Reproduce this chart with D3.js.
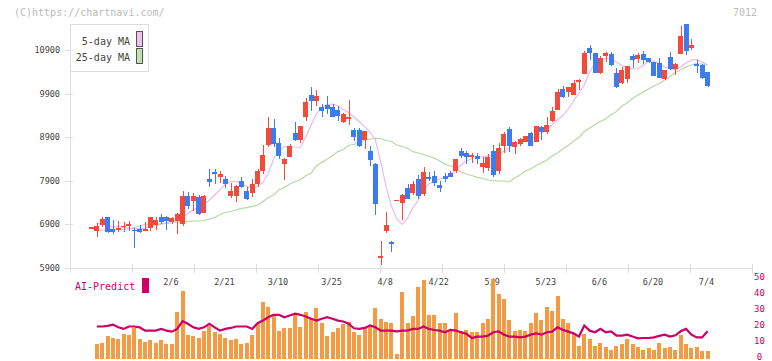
<!DOCTYPE html>
<html><head><meta charset="utf-8">
<script src="https://cdn.jsdelivr.net/npm/d3@7"></script>
<style>
body{margin:0;background:#fff}
svg{display:block}
text{font-family:"DejaVu Sans Mono","Liberation Mono",monospace}
</style>
</head><body>
<svg id="chart" width="772" height="361"></svg>
<script>
// ---- data ----
const dates = ["1/16","1/17","1/20","1/21","1/22","1/23","1/24","1/27","1/28","1/29","1/30","1/31",
"2/3","2/4","2/5","2/6","2/7","2/10","2/12","2/13","2/14","2/17","2/18","2/19","2/20","2/21","2/25","2/26","2/27","2/28",
"3/3","3/4","3/5","3/6","3/7","3/10","3/11","3/12","3/13","3/14","3/17","3/18","3/19","3/21","3/24","3/25","3/26","3/27","3/28","3/31",
"4/1","4/2","4/3","4/4","4/7","4/8","4/9","4/10","4/11","4/14","4/15","4/16","4/17","4/18","4/21","4/22","4/23","4/24","4/25","4/28","4/30",
"5/1","5/2","5/7","5/8","5/9","5/12","5/13","5/14","5/15","5/16","5/19","5/20","5/21","5/22","5/23","5/26","5/27","5/28","5/29","5/30",
"6/2","6/3","6/4","6/5","6/6","6/9","6/10","6/11","6/12","6/13","6/16","6/17","6/18","6/19","6/20","6/23","6/24","6/25","6/26","6/27","6/30",
"7/1","7/2","7/3","7/4"];

const open = [6825,6750,6880,7060,6790,6770,6840,6860,6770,6790,6750,6820,6870,7060,7060,6950,6970,6900,7550,7430,
7520,7160,7940,8100,7990,7940,7550,7550,7900,7660,7620,7820,8130,8720,9100,8760,8280,8450,9000,8830,
9370,9870,9740,9580,9640,9600,9520,9250,9340,9060,9060,8830,8590,8280,6130,6750,6480,7450,7390,7740,
7610,7940,7590,7980,8010,7800,8010,8080,8120,8580,8530,8450,8470,8220,8200,8580,8110,8700,9090,8680,
8730,8790,9000,8790,9130,9010,9270,9520,10000,9940,9870,10200,10350,10950,10840,10380,10770,10810,10380,10150,
10230,10760,10690,10810,10720,10620,10610,10230,10730,10460,10810,11500,10950,10570,10560,10400];
const high = [6840,6920,7060,7060,7000,6970,6950,6970,6820,6880,6940,7060,7060,7130,7090,7060,7160,7660,7630,7610,
7570,7560,8170,8170,8120,8010,7840,7800,7980,7750,7940,8160,8720,9370,9320,8870,8410,8730,9250,9160,
9790,10040,9970,9660,9840,9660,9610,9460,9750,9120,9120,9040,8700,8310,6510,7170,6510,7460,7590,7820,
7880,8030,8220,8090,8110,7890,8080,8120,8400,8660,8580,8530,8530,8450,8510,8720,8760,9020,9140,8810,
8890,8930,9010,9160,9160,9350,9600,10000,10070,10060,10200,10230,10880,11020,10840,10770,10860,10850,10490,10520,
10530,10810,10830,10880,10720,10630,10710,10440,10850,10610,11460,11500,11150,10670,10570,10400];
const low = [6820,6610,6830,6700,6670,6730,6730,6750,6360,6700,6750,6740,6770,6900,6770,6900,6670,6860,7250,7200,
7110,7150,7760,7820,7840,7720,7490,7420,7720,7460,7530,7750,8050,8680,8680,8400,7910,8440,8820,8770,
9280,9510,9620,9350,9430,9350,9280,9220,9180,8810,8680,8620,8240,7110,5960,6700,6250,7450,7000,7480,
7570,7480,7550,7900,7780,7650,7860,7980,8080,8430,8280,8300,8280,8080,8110,7990,8050,8540,8550,8510,
8700,8780,8690,8780,8830,8970,9250,9520,9800,9810,9870,9980,10350,10660,10370,10350,10630,10530,10020,10110,
10140,10490,10610,10580,10600,10300,10250,10210,10440,10330,10810,10790,10900,10370,10230,10040];
const close = [6830,6860,7020,6730,6730,6820,6860,6900,6740,6730,6800,7060,7000,6950,6970,7030,7130,7550,7320,7550,
7130,7550,7860,8060,8050,7820,7660,7780,7760,7470,7820,8120,8490,9100,8730,8470,8400,8700,8830,9160,
9700,9740,9840,9510,9550,9370,9390,9430,9350,8910,8700,9040,8370,7360,6170,6880,6440,7460,7570,7480,
7820,7550,8090,7970,7850,7740,7940,7990,8400,8470,8450,8490,8400,8310,8440,8030,8660,8970,8700,8790,
8860,8930,8700,9160,9020,9180,9510,9940,9830,10060,10150,10210,10840,10830,10380,10720,10830,10560,10040,10440,
10530,10660,10790,10660,10620,10310,10260,10440,10460,10580,11220,10880,11020,10560,10250,10080];

const ma5 = [null,6915,6904,6869,6846,6835,6823,6805,6794,6794,6812,6842,6862,6904,6931,6961,6989,7065,7145,7225,
7294,7363,7455,7570,7685,7823,7880,7880,7834,7765,7719,7765,7857,8075,8397,8604,8679,8691,8672,8666,
8902,9178,9430,9568,9649,9660,9614,9534,9465,9362,9258,9132,9017,8833,8328,7754,7317,7019,6892,7042,
7271,7455,7708,7823,7891,7937,7983,8029,8144,8259,8351,8408,8436,8450,8477,8489,8512,8581,8650,8730,
8794,8833,8856,8925,9006,9074,9189,9304,9396,9545,9729,9913,10097,10395,10602,10659,10717,10682,10625,10545,
10480,10464,10471,10545,10648,10648,10590,10510,10464,10453,10510,10602,10671,10682,10625,10556];
const ma25 = [null,6766,6766,6766,6766,6766,6777,6789,6823,6851,6892,6904,6904,6908,6915,6927,6950,6957,6966,6973,
6973,6984,7019,7053,7122,7168,7191,7225,7264,7278,7310,7333,7421,7506,7570,7696,7742,7823,7880,7919,
8011,8075,8241,8319,8397,8477,8567,8613,8707,8735,8755,8833,8856,8872,8868,8822,8799,8718,8684,8643,
8565,8535,8500,8454,8420,8351,8282,8236,8190,8091,8052,8018,7976,7954,7914,7903,7891,7891,7869,7960,
8029,8121,8167,8248,8305,8374,8466,8535,8627,8707,8810,8891,9028,9109,9189,9258,9323,9414,9488,9614,
9683,9787,9867,9936,10005,10074,10131,10211,10292,10384,10441,10510,10556,10590,10579,10556];

const volume = [null,8.8,10,13.8,13.1,12.5,15.6,15,18.8,11.9,10.6,11.3,10,11.3,8.8,8.8,28.8,42.5,14.4,13.8,
13.1,16.9,20.6,16.3,15.6,13.1,11.3,11.9,8.8,10,15,21.9,35.6,31.9,27.5,17.5,18.8,18.8,27.5,20,
28.8,25.6,31.3,21.9,13.8,16.3,18.8,21.3,23.1,16.3,14.4,18.8,20.6,31.3,25,23.1,21.9,3.1,41.3,22.5,
26.3,45,48.8,27.5,27.5,22.5,22.5,18,28.4,17.5,18,16.4,16.4,21.9,24.4,49.4,40.6,37.5,23.8,17.5,
18,16.9,22.5,28.6,23.8,32.5,29.4,38.8,24.4,21.9,15.6,8.1,15.6,11.9,8.1,9.4,7.5,5.6,8.1,8.8,
12.5,8.8,6.9,5.6,6.3,5.6,9.4,6.3,7.5,5.6,14.4,8.8,6.3,6.9,4.4,4.4];
const aiPredict = [null,20,20,20.4,21.2,19.5,18.5,20,20,19.5,17.4,17.4,17.4,18.5,17.4,16.8,18.5,23.3,21.7,19.5,
18.5,19.5,21.7,19.5,17.4,18.5,19.1,20,20,20,18.5,22.1,23.7,25.8,27.3,27.3,25.8,26.9,28,27.3,
26.3,24.8,23.7,24.8,25.8,24.8,23.7,23.1,21.7,18.9,18.5,19.1,20.6,19.5,17.4,17.4,17.4,17,17.4,17.4,
18.5,18.5,20,18.5,17.8,17.4,16.4,17.9,17.4,16.4,15.4,12.8,13.7,13.7,14.3,16.4,17,14.9,13.7,13.7,
13.2,13.7,14.9,15.7,14.9,16.4,16.8,19.5,17.9,16.8,15.7,13.7,20.6,17.4,16.4,18.5,16.4,17,14.3,14.3,
14.9,13.7,12.6,12.8,12.8,13.2,14.1,14.9,13.7,14.5,17,18.5,14.9,13.2,13.2,17];

const priceTicks = [5900,6900,7900,8900,9900,10900];
const dateLabels = ["2/6","2/21","3/10","3/25","4/8","4/22","5/9","5/23","6/6","6/20","7/4"];
const subTicks = [0,10,20,30,40,50];
const gridDivisions = 11;

// ---- style ----
const UP = "#f24b3b", DOWN = "#3c7cf0", AXIS = "#dddddd", LABEL = "#444", MAG = "#cc0066";

const svg = d3.select("#chart");
svg.append("rect").attr("width",772).attr("height",361).attr("fill","#fff");

const x = d3.scalePoint().domain(dates).range([91.5, 707.5]);
const y = d3.scaleLinear().domain([5900, 10900]).range([267.7, 50]);
const yv = d3.scaleLinear().domain([0, 50]).range([358.5, 278.5]);
const frame = d3.scaleLinear().domain([0, gridDivisions]).range([70, 752]);

const idx = d3.range(dates.length);

// header texts
svg.append("text").attr("x",14).attr("y",12.5).attr("dominant-baseline","central")
  .attr("font-size",10).attr("fill","#bbb").text("(C)https://chartnavi.com/");
svg.append("text").attr("x",757).attr("y",12.5).attr("dominant-baseline","central").attr("text-anchor","end")
  .attr("font-size",10).attr("fill","#bbb").text("7012");

// axes frame
const ax = svg.append("g").attr("shape-rendering","crispEdges");
ax.append("line").attr("x1",70.5).attr("x2",70.5).attr("y1",24).attr("y2",268.5).attr("stroke",AXIS);
ax.append("line").attr("x1",70).attr("x2",752.5).attr("y1",268.5).attr("y2",268.5).attr("stroke",AXIS).attr("stroke-width",1.5);
ax.selectAll(".yt").data(priceTicks).join("line")
  .attr("x1",65).attr("x2",73).attr("y1",d=>Math.round(y(d))+0.5).attr("y2",d=>Math.round(y(d))+0.5).attr("stroke",AXIS);
ax.selectAll(".xt").data(d3.range(gridDivisions+1)).join("line")
  .attr("x1",d=>Math.round(frame(d))+0.5).attr("x2",d=>Math.round(frame(d))+0.5).attr("y1",264).attr("y2",273).attr("stroke",AXIS);

svg.selectAll(".ylab").data(priceTicks).join("text")
  .attr("x",60).attr("y",d=>y(d)).attr("text-anchor","end").attr("dominant-baseline","central")
  .attr("font-size",8.5).attr("fill",LABEL).text(d=>d);
svg.selectAll(".xlab").data(dateLabels).join("text")
  .attr("x",d=>x(d)-1).attr("y",282).attr("text-anchor","middle").attr("dominant-baseline","central")
  .attr("font-size",8.5).attr("fill",LABEL).text(d=>d);

// moving averages
const lineOf = (arr, ys) => d3.line().defined(i=>arr[i]!=null).x(i=>x(dates[i])).y(i=>ys(arr[i]));
svg.append("path").datum(idx).attr("d",lineOf(ma25,y)).attr("fill","none").attr("stroke","#b2daa2").attr("stroke-width",1.2);
svg.append("path").datum(idx).attr("d",lineOf(ma5,y)).attr("fill","none").attr("stroke","#eab4ee").attr("stroke-width",1.1);

// candles
const cg = svg.append("g").attr("shape-rendering","crispEdges");
cg.selectAll(".wick").data(idx).join("rect")
  .attr("x",i=>Math.round(x(dates[i]))-0.5).attr("width",1.2)
  .attr("y",i=>y(high[i])).attr("height",i=>Math.max(1,y(low[i])-y(high[i])))
  .attr("fill",i=>close[i]>=open[i]?UP:DOWN);
cg.selectAll(".body").data(idx).join("rect")
  .attr("x",i=>x(dates[i])-2.5).attr("width",5)
  .attr("y",i=>y(Math.max(open[i],close[i]))).attr("height",i=>Math.max(1.5,Math.abs(y(open[i])-y(close[i]))))
  .attr("fill",i=>close[i]>=open[i]?UP:DOWN);

// volume + AI predict panel
svg.append("g").attr("shape-rendering","crispEdges").selectAll("rect").data(idx.filter(i=>volume[i]!=null)).join("rect")
  .attr("x",i=>x(dates[i])-2).attr("width",4)
  .attr("y",i=>yv(volume[i])).attr("height",i=>yv(0)-yv(volume[i]))
  .attr("fill","#f39a43");
svg.append("path").datum(idx).attr("d",lineOf(aiPredict,yv)).attr("fill","none").attr("stroke",MAG).attr("stroke-width",2.2);

svg.selectAll(".vlab").data(subTicks).join("text")
  .attr("x",759.5).attr("y",d=>yv(d)-1.8).attr("text-anchor","middle").attr("dominant-baseline","central")
  .attr("font-size",9).attr("fill",MAG).text(d=>d);

svg.append("text").attr("x",75).attr("y",286).attr("dominant-baseline","central")
  .attr("font-size",10).attr("fill",MAG).text("AI-Predict");
svg.append("rect").attr("x",142).attr("y",278).attr("width",7).attr("height",15).attr("fill",MAG);

// legend
const lg = svg.append("g");
lg.append("rect").attr("x",70.5).attr("y",24.5).attr("width",78).attr("height",47)
  .attr("fill","#fff").attr("stroke",AXIS).attr("shape-rendering","crispEdges");
const legendItems = [{label:"5-day MA", color:"#f0c0f0"},{label:"25-day MA", color:"#c0e2b0"}];
legendItems.forEach((d,k)=>{
  lg.append("text").attr("x",130).attr("y",41.5+k*15.5).attr("text-anchor","end").attr("dominant-baseline","central")
    .attr("font-size",10).attr("fill","#444").text(d.label);
  lg.append("rect").attr("x",136.5).attr("y",31.5+k*17).attr("width",6).attr("height",15)
    .attr("fill",d.color).attr("stroke","#555").attr("shape-rendering","crispEdges");
});
</script>
</body></html>
